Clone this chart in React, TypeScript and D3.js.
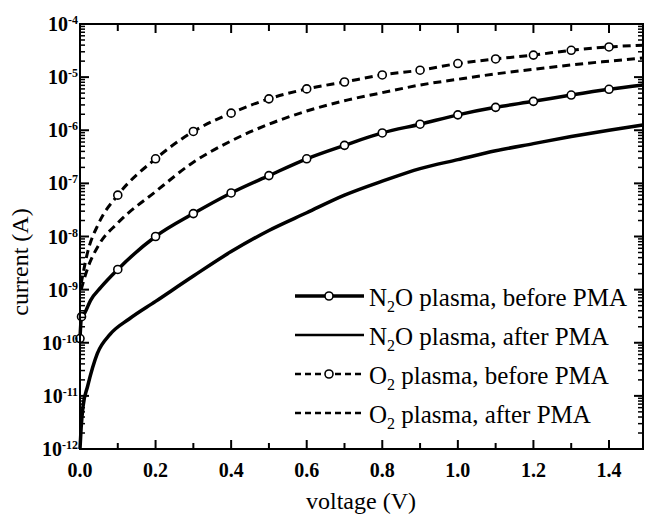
import * as d3 from "d3";
import React from "react";

const WIDTH = 645;
const HEIGHT = 524;
const MARGIN = { left: 80, right: 2, top: 24, bottom: 75 };

const FONT = "'Liberation Serif', 'Times New Roman', serif";

// voltage (V) / current (A)
const n2oBeforeV = [0, 0.004, 0.012, 0.028, 0.055, 0.1, 0.2, 0.3, 0.4, 0.5, 0.6, 0.7, 0.8, 0.9, 1.0, 1.1, 1.2, 1.3, 1.4, 1.49];
const n2oBeforeI = [1.2e-10, 3.1e-10, 3.6e-10, 6.3e-10, 1.1e-9, 2.4e-9, 1.0e-8, 2.7e-8, 6.6e-8, 1.4e-7, 2.9e-7, 5.2e-7, 8.9e-7, 1.3e-6, 1.95e-6, 2.7e-6, 3.5e-6, 4.6e-6, 5.9e-6, 7.1e-6];

const n2oAfterV = [0, 0.003, 0.008, 0.02, 0.046, 0.08, 0.13, 0.2, 0.3, 0.4, 0.5, 0.6, 0.7, 0.8, 0.9, 1.0, 1.1, 1.2, 1.3, 1.4, 1.49];
const n2oAfterI = [1.0e-12, 2.5e-12, 6.3e-12, 1.5e-11, 6.3e-11, 1.45e-10, 2.8e-10, 6.0e-10, 1.8e-9, 5.2e-9, 1.3e-8, 2.8e-8, 6.0e-8, 1.1e-7, 1.9e-7, 2.8e-7, 4.1e-7, 5.6e-7, 7.6e-7, 1.0e-6, 1.26e-6];

const o2BeforeV = [0.003, 0.02, 0.05, 0.1, 0.2, 0.3, 0.4, 0.5, 0.6, 0.7, 0.8, 0.9, 1.0, 1.1, 1.2, 1.3, 1.4, 1.49];
const o2BeforeI = [1.3e-9, 5.0e-9, 1.8e-8, 6.0e-8, 2.9e-7, 9.5e-7, 2.1e-6, 3.9e-6, 6.0e-6, 8.1e-6, 1.1e-5, 1.35e-5, 1.8e-5, 2.2e-5, 2.6e-5, 3.2e-5, 3.7e-5, 4.0e-5];

const o2AfterV = [0.003, 0.02, 0.05, 0.1, 0.2, 0.3, 0.4, 0.5, 0.6, 0.7, 0.8, 0.9, 1.0, 1.1, 1.2, 1.3, 1.4, 1.49];
const o2AfterI = [1.0e-9, 2.5e-9, 7.0e-9, 1.8e-8, 7.0e-8, 2.5e-7, 6.3e-7, 1.3e-6, 2.3e-6, 3.6e-6, 5.1e-6, 7.1e-6, 9.1e-6, 1.15e-5, 1.4e-5, 1.7e-5, 2.0e-5, 2.3e-5];

// voltages where the open circles sit
const n2oMarkerV = [0, 0.004, 0.1, 0.2, 0.3, 0.4, 0.5, 0.6, 0.7, 0.8, 0.9, 1.0, 1.1, 1.2, 1.3, 1.4];
const o2MarkerV = [0.1, 0.2, 0.3, 0.4, 0.5, 0.6, 0.7, 0.8, 0.9, 1.0, 1.1, 1.2, 1.3, 1.4];

const xTickLabels = ["0.0", "0.2", "0.4", "0.6", "0.8", "1.0", "1.2", "1.4"];
const yExponents = [-4, -5, -6, -7, -8, -9, -10, -11, -12];

const legendLabels = [
  { main: "N", sub: "2", rest: "O plasma, before PMA" },
  { main: "N", sub: "2", rest: "O plasma, after PMA" },
  { main: "O", sub: "2", rest: " plasma, before PMA" },
  { main: "O", sub: "2", rest: " plasma, after PMA" },
];

const zip = (v: number[], i: number[]) => v.map((x, k) => [x, i[k]] as [number, number]);

const series = [
  { pts: zip(n2oBeforeV, n2oBeforeI), markers: n2oMarkerV, dash: null, width: 3.5 },
  { pts: zip(n2oAfterV, n2oAfterI), markers: [], dash: null, width: 3.5 },
  { pts: zip(o2BeforeV, o2BeforeI), markers: o2MarkerV, dash: "8,5", width: 3 },
  { pts: zip(o2AfterV, o2AfterI), markers: [], dash: "8,5", width: 3 },
];

export default function App() {
  const boundsW = WIDTH - MARGIN.left - MARGIN.right;
  const boundsH = HEIGHT - MARGIN.top - MARGIN.bottom;

  const xScale = d3.scaleLinear().domain([0, 1.49]).range([0, boundsW]);
  const yScale = d3.scaleLog().domain([1e-12, 1e-4]).range([boundsH, 0]);

  const line = d3
    .line<[number, number]>()
    .x((d) => xScale(d[0]))
    .y((d) => yScale(d[1]))
    .curve(d3.curveMonotoneX);

  // minor ticks on the log axis
  const minorY: number[] = [];
  for (let e = -12; e < -4; e++) {
    for (let m = 2; m <= 9; m++) minorY.push(m * Math.pow(10, e));
  }
  const xMinor = d3.range(1, 15, 2).map((k) => k / 10);
  const xMajor = xTickLabels.map(Number);

  const valueAt = (pts: [number, number][], v: number) => {
    const found = pts.find((p) => Math.abs(p[0] - v) < 1e-9);
    return found ? found[1] : null;
  };

  return (
    <svg width={WIDTH} height={HEIGHT} style={{ position: "absolute", left: 0, top: 0, background: "#fff" }}>
      <g transform={`translate(${MARGIN.left},${MARGIN.top})`}>
        {/* curves */}
        {series.map((s, i) => (
          <path
            key={i}
            d={line(s.pts) || ""}
            fill="none"
            stroke="#000"
            strokeWidth={s.width}
            strokeDasharray={s.dash || undefined}
          />
        ))}
        {series.map((s, i) =>
          s.markers.map((v, k) => {
            const c = valueAt(s.pts, v);
            if (c == null) return null;
            return (
              <circle key={`${i}-${k}`} cx={xScale(v)} cy={yScale(c)} r={4} fill="#fff" stroke="#000" strokeWidth={1.6} />
            );
          })
        )}

        {/* frame */}
        <rect x={0} y={0} width={boundsW} height={boundsH} fill="none" stroke="#000" strokeWidth={2} />

        {/* y ticks, left and right */}
        {yExponents.map((e) => (
          <g key={e}>
            <line x1={0} x2={9} y1={yScale(Math.pow(10, e))} y2={yScale(Math.pow(10, e))} stroke="#000" strokeWidth={2} />
            <line x1={boundsW - 9} x2={boundsW} y1={yScale(Math.pow(10, e))} y2={yScale(Math.pow(10, e))} stroke="#000" strokeWidth={2} />
          </g>
        ))}
        {minorY.map((v, k) => (
          <g key={k}>
            <line x1={0} x2={5} y1={yScale(v)} y2={yScale(v)} stroke="#000" strokeWidth={1.5} />
            <line x1={boundsW - 5} x2={boundsW} y1={yScale(v)} y2={yScale(v)} stroke="#000" strokeWidth={1.5} />
          </g>
        ))}

        {/* x ticks, bottom and top */}
        {xMajor.map((v) => (
          <g key={v}>
            <line x1={xScale(v)} x2={xScale(v)} y1={boundsH} y2={boundsH - 9} stroke="#000" strokeWidth={2} />
            <line x1={xScale(v)} x2={xScale(v)} y1={0} y2={9} stroke="#000" strokeWidth={2} />
          </g>
        ))}
        {xMinor.map((v) => (
          <g key={v}>
            <line x1={xScale(v)} x2={xScale(v)} y1={boundsH} y2={boundsH - 6} stroke="#000" strokeWidth={2} />
            <line x1={xScale(v)} x2={xScale(v)} y1={0} y2={7} stroke="#000" strokeWidth={2} />
          </g>
        ))}

        {/* tick labels */}
        {xTickLabels.map((t) => (
          <text
            key={t}
            x={xScale(Number(t))}
            y={boundsH + 28}
            textAnchor="middle"
            fontFamily={FONT}
            fontWeight="bold"
            fontSize={20}
          >
            {t}
          </text>
        ))}
        {yExponents.map((e) => (
          <text
            key={e}
            x={-2}
            y={yScale(Math.pow(10, e)) + 7}
            textAnchor="end"
            fontFamily={FONT}
            fontWeight="bold"
            fontSize={20}
          >
            10
            <tspan fontSize={12} dy={-7}>
              {String(e)}
            </tspan>
          </text>
        ))}

        {/* legend */}
        {legendLabels.map((l, i) => {
          const y = 272 + i * 39;
          const s = series[i];
          return (
            <g key={i}>
              <line
                x1={215}
                x2={284}
                y1={y}
                y2={y}
                stroke="#000"
                strokeWidth={i === 0 ? 3.5 : 2.5}
                strokeDasharray={s.dash ? "6,4" : undefined}
              />
              {s.markers.length > 0 && <circle cx={249} cy={y} r={4} fill="#fff" stroke="#000" strokeWidth={1.6} />}
              <text x={289} y={y + 10} fontFamily={FONT} fontSize={25}>
                {l.main}
                <tspan fontSize={16} dy={6}>
                  {l.sub}
                </tspan>
                <tspan dy={-6}>{l.rest}</tspan>
              </text>
            </g>
          );
        })}
      </g>

      {/* axis titles */}
      <text x={361} y={509} textAnchor="middle" fontFamily={FONT} fontSize={24}>
        voltage (V)
      </text>
      <text
        transform={`translate(28,${MARGIN.top + 238}) rotate(-90)`}
        textAnchor="middle"
        fontFamily={FONT}
        fontSize={24}
      >
        current (A)
      </text>
    </svg>
  );
}
